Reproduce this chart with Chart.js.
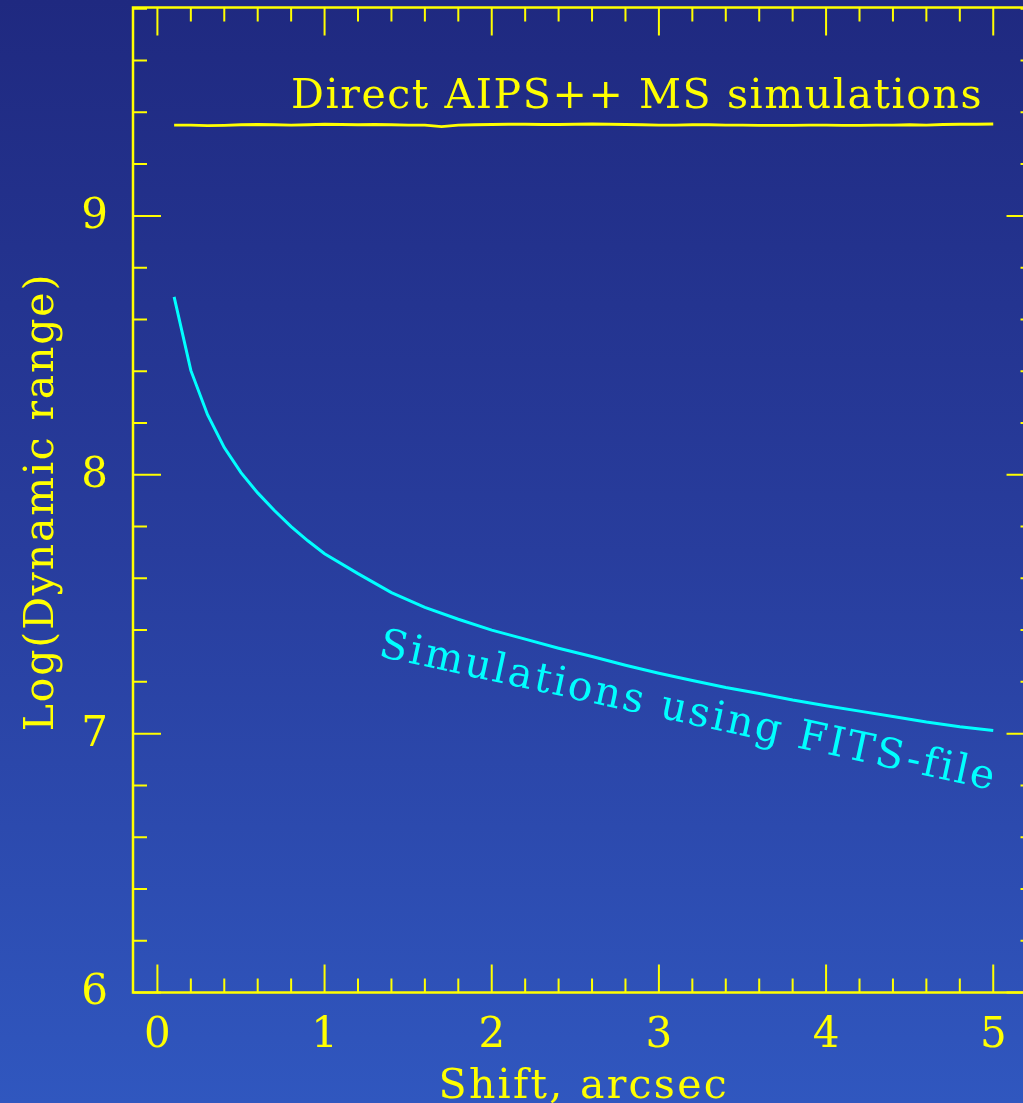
<!DOCTYPE html>
<html lang="en">
<head>
<meta charset="UTF-8">
<title>Dynamic range vs shift</title>
<script src="https://cdn.jsdelivr.net/npm/chart.js"></script>
<style>
  html, body { margin: 0; padding: 0; background: #2a3f9e; overflow: hidden; }
  #grafico { display: block; }
</style>
</head>
<body>
<canvas id="grafico" width="1023" height="1103"></canvas>
<script>
// curva ciana: simulacoes com arquivo FITS
const shiftFits = [0.1, 0.2, 0.3, 0.4, 0.5, 0.6, 0.7, 0.8, 0.9, 1.0,
                   1.2, 1.4, 1.6, 1.8, 2.0, 2.2, 2.4, 2.6, 2.8, 3.0,
                   3.2, 3.4, 3.6, 3.8, 4.0, 4.2, 4.4, 4.6, 4.8, 5.0];
const drFits = [8.687, 8.403, 8.232, 8.105, 8.008, 7.930, 7.862, 7.800, 7.745, 7.695,
                7.618, 7.545, 7.488, 7.442, 7.400, 7.365, 7.330, 7.298, 7.264, 7.233,
                7.205, 7.178, 7.155, 7.130, 7.108, 7.087, 7.066, 7.045, 7.027, 7.012];

// linha amarela: simulacoes diretas AIPS++ MS
const shiftMs = [0.1, 0.2, 0.3, 0.4, 0.5, 0.6, 0.7, 0.8, 0.9, 1.0,
                 1.1, 1.2, 1.3, 1.4, 1.5, 1.6, 1.7, 1.8, 1.9, 2.0,
                 2.1, 2.2, 2.3, 2.4, 2.5, 2.6, 2.7, 2.8, 2.9, 3.0,
                 3.1, 3.2, 3.3, 3.4, 3.5, 3.6, 3.7, 3.8, 3.9, 4.0,
                 4.1, 4.2, 4.3, 4.4, 4.5, 4.6, 4.7, 4.8, 4.9, 5.0];
const drMs = [9.351, 9.351, 9.349, 9.350, 9.352, 9.353, 9.352, 9.351, 9.352, 9.354,
              9.353, 9.352, 9.353, 9.352, 9.351, 9.351, 9.345, 9.351, 9.352, 9.353,
              9.354, 9.354, 9.353, 9.353, 9.354, 9.355, 9.354, 9.353, 9.352, 9.351,
              9.351, 9.352, 9.352, 9.351, 9.351, 9.350, 9.350, 9.350, 9.351, 9.351,
              9.350, 9.350, 9.351, 9.351, 9.352, 9.351, 9.353, 9.354, 9.354, 9.355];

const xTicks = [0, 1, 2, 3, 4, 5];
const yTicks = [6, 7, 8, 9];

const AMARELO = '#ffff00';
const CIANO = '#00ffff';
const FONTE = '"DejaVu Serif", serif';
const X_DIREITA = 5.247; // eixo direito fica fora da imagem

function pares(xs, ys) {
    return xs.map((x, i) => ({ x: x, y: ys[i] }));
}

// fundo, eixos com tracos para dentro, rotulos e textos
const eixos = {
    id: 'eixos',
    beforeDraw(chart) {
        const ctx = chart.ctx;
        const g = ctx.createLinearGradient(0, 0, 0, chart.height);
        g.addColorStop(0, '#1f2980');
        g.addColorStop(0.5, '#283d9d');
        g.addColorStop(1, '#3057bf');
        ctx.save();
        ctx.fillStyle = g;
        ctx.fillRect(0, 0, chart.width, chart.height);
        ctx.restore();
    },
    afterDraw(chart) {
        const ctx = chart.ctx;
        const a = chart.chartArea;
        const sx = chart.scales.x;
        const sy = chart.scales.y;
        const dir = sx.getPixelForValue(X_DIREITA);
        ctx.save();
        ctx.strokeStyle = AMARELO;
        ctx.fillStyle = AMARELO;

        // moldura
        ctx.lineWidth = 2.5;
        ctx.strokeRect(a.left, a.top, dir - a.left, a.bottom - a.top);

        // tracos
        ctx.lineWidth = 2;
        ctx.beginPath();
        for (let i = 0; i <= 26; i++) {
            const v = i * 0.2;
            const px = sx.getPixelForValue(v);
            if (px < a.left || px > dir) continue;
            const len = (i % 5 === 0) ? 28 : 14;
            ctx.moveTo(px, a.bottom); ctx.lineTo(px, a.bottom - len);
            ctx.moveTo(px, a.top); ctx.lineTo(px, a.top + len);
        }
        for (let i = 0; i <= 19; i++) {
            const v = 6 + i * 0.2;
            const py = sy.getPixelForValue(v);
            if (py < a.top - 1 || py > a.bottom) continue;
            const len = (i % 5 === 0) ? 28 : 14;
            ctx.moveTo(a.left, py); ctx.lineTo(a.left + len, py);
            ctx.moveTo(dir, py); ctx.lineTo(dir - len, py);
        }
        ctx.stroke();

        // rotulos dos tracos
        ctx.font = '42px ' + FONTE;
        ctx.textAlign = 'center';
        ctx.textBaseline = 'alphabetic';
        xTicks.forEach(t => {
            ctx.fillText(String(t), sx.getPixelForValue(t), a.bottom + 54);
        });
        ctx.textAlign = 'right';
        ctx.textBaseline = 'middle';
        yTicks.forEach(t => {
            ctx.fillText(String(t), a.left - 25, sy.getPixelForValue(t) + 1);
        });

        // titulos dos eixos
        ctx.font = '41px ' + FONTE;
        ctx.letterSpacing = '2.3px';
        ctx.textAlign = 'center';
        ctx.textBaseline = 'alphabetic';
        ctx.fillText('Shift, arcsec', (a.left + dir) / 2, a.bottom + 105);
        ctx.letterSpacing = '1.8px';
        ctx.save();
        ctx.translate(53, 502);
        ctx.rotate(-Math.PI / 2);
        ctx.fillText('Log(Dynamic range)', 0, 0);
        ctx.restore();

        // textos das curvas
        ctx.letterSpacing = '1.6px';
        ctx.textAlign = 'right';
        ctx.fillText('Direct AIPS++ MS simulations', sx.getPixelForValue(4.94), sy.getPixelForValue(9.417));

        ctx.fillStyle = CIANO;
        ctx.letterSpacing = '2.4px';
        ctx.textAlign = 'center';
        ctx.save();
        ctx.translate(sx.getPixelForValue(3.16), sy.getPixelForValue(7.04));
        ctx.rotate(12.3 * Math.PI / 180);
        ctx.fillText('Simulations using FITS-file', 0, 0);
        ctx.restore();

        ctx.restore();
    }
};

const ctx = document.getElementById('grafico');
const grafico = new Chart(ctx, {
    type: 'scatter',
    data: {
        datasets: [
            {
                label: 'Direct AIPS++ MS simulations',
                data: pares(shiftMs, drMs),
                showLine: true,
                borderColor: AMARELO,
                borderWidth: 2.8,
                pointRadius: 0,
                tension: 0
            },
            {
                label: 'Simulations using FITS-file',
                data: pares(shiftFits, drFits),
                showLine: true,
                borderColor: CIANO,
                borderWidth: 3,
                pointRadius: 0,
                tension: 0
            }
        ]
    },
    options: {
        responsive: false,
        animation: false,
        devicePixelRatio: 1,
        layout: {
            padding: { left: 133, top: 7.5, right: 0, bottom: 110.5 }
        },
        scales: {
            x: { type: 'linear', min: -0.146, max: 5.178, display: false },
            y: { type: 'linear', min: 6, max: 9.805, display: false }
        },
        plugins: {
            legend: { display: false },
            tooltip: { enabled: false }
        }
    },
    plugins: [eixos]
});
</script>
</body>
</html>
